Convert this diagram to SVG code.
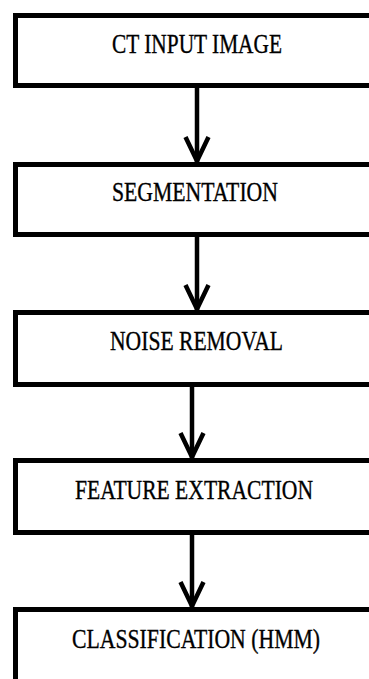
<svg xmlns="http://www.w3.org/2000/svg" width="369" height="679" viewBox="0 0 369 679">
<style>
.box{fill:#fff;stroke:#000;stroke-width:5}
.lbl{font-family:"Liberation Serif","Times New Roman",serif;font-size:27px;fill:#000;stroke:#000;stroke-width:0.35;text-anchor:start}
.conn{stroke:#000;stroke-width:4.5;fill:none}
</style>
<defs>
<marker id="chev" markerUnits="userSpaceOnUse" markerWidth="40" markerHeight="40" refX="0" refY="0" orient="auto" viewBox="-30 -20 40 40" overflow="visible">
<path d="M-25,-11.5 L-1,0 L-25,11.5" fill="none" stroke="#000" stroke-width="4.5"/>
</marker>
</defs>
<rect width="369" height="679" fill="#fff"/>
<g id="n1"><rect class="box" x="15.5" y="15.5" width="370" height="70"/><text class="lbl" x="112" y="53" textLength="170" lengthAdjust="spacingAndGlyphs">CT INPUT IMAGE</text></g>
<g id="n2"><rect class="box" x="15.5" y="164.5" width="370" height="70"/><text class="lbl" x="112" y="201" textLength="166" lengthAdjust="spacingAndGlyphs">SEGMENTATION</text></g>
<g id="n3"><rect class="box" x="15.5" y="312.5" width="370" height="72"/><text class="lbl" x="110" y="350" textLength="173" lengthAdjust="spacingAndGlyphs">NOISE REMOVAL</text></g>
<g id="n4"><rect class="box" x="15.5" y="460.5" width="370" height="72"/><text class="lbl" x="75" y="499" textLength="238" lengthAdjust="spacingAndGlyphs">FEATURE EXTRACTION</text></g>
<g id="n5"><rect class="box" x="15.5" y="609.5" width="370" height="90"/><text class="lbl" x="72" y="648" textLength="248" lengthAdjust="spacingAndGlyphs">CLASSIFICATION (HMM)</text></g>
<g id="connectors">
<line class="conn" x1="197" y1="88" x2="197" y2="162" marker-end="url(#chev)"/>
<line class="conn" x1="197" y1="237" x2="197" y2="310" marker-end="url(#chev)"/>
<line class="conn" x1="192" y1="387" x2="192" y2="458" marker-end="url(#chev)"/>
<line class="conn" x1="192" y1="535" x2="192" y2="607" marker-end="url(#chev)"/>
</g>
</svg>
